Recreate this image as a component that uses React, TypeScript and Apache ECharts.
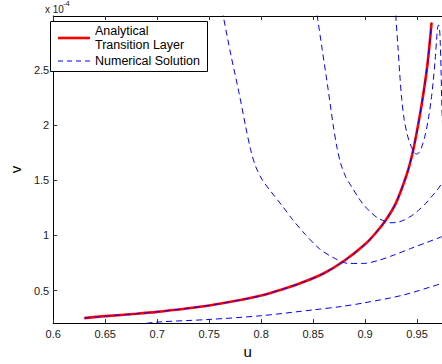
import React, { useEffect, useRef } from "react";
import * as echarts from "echarts";

// Analytical transition layer (red), v in units of 1e-4
const redU = [0.63, 0.65, 0.68, 0.7, 0.73, 0.75, 0.78, 0.8, 0.82, 0.84, 0.86, 0.88, 0.9, 0.91, 0.92, 0.93, 0.94, 0.945, 0.95, 0.955, 0.96, 0.964];
const redV = [0.25, 0.268, 0.29, 0.307, 0.34, 0.365, 0.415, 0.455, 0.51, 0.575, 0.655, 0.77, 0.92, 1.02, 1.14, 1.3, 1.55, 1.72, 1.95, 2.22, 2.55, 2.93];

// Numerical solution following the transition layer
const numAU = [0.63, 0.65, 0.68, 0.7, 0.73, 0.75, 0.78, 0.8, 0.82, 0.84, 0.86, 0.88, 0.9, 0.91, 0.92, 0.93, 0.94, 0.945, 0.95, 0.955, 0.96, 0.964];
const numAV = [0.25, 0.268, 0.29, 0.307, 0.34, 0.365, 0.415, 0.455, 0.51, 0.575, 0.655, 0.77, 0.92, 1.02, 1.14, 1.3, 1.55, 1.72, 1.95, 2.22, 2.55, 2.93];

// Numerical trajectory 1
const numBU = [0.7627, 0.7637, 0.7709, 0.7785, 0.7851, 0.7898, 0.7946, 0.8012, 0.8097, 0.821, 0.8304, 0.8427, 0.8559, 0.8692, 0.8843, 0.8984, 0.9126, 0.9277, 0.9438, 0.9589, 0.974];
const numBV = [3.044, 2.984, 2.638, 2.305, 1.99, 1.782, 1.629, 1.503, 1.395, 1.26, 1.142, 1.007, 0.881, 0.8, 0.746, 0.746, 0.773, 0.822, 0.881, 0.935, 0.989];

// Numerical trajectory 2
const numCU = [0.8526, 0.8541, 0.8588, 0.8645, 0.8692, 0.8729, 0.8767, 0.8814, 0.8871, 0.8937, 0.8994, 0.906, 0.9126, 0.9192, 0.9249, 0.9315, 0.9381, 0.9447, 0.9514, 0.958, 0.9646, 0.9702, 0.974];
const numCV = [3.089, 2.984, 2.684, 2.323, 2.008, 1.801, 1.648, 1.531, 1.441, 1.341, 1.269, 1.205, 1.156, 1.129, 1.115, 1.12, 1.142, 1.178, 1.228, 1.287, 1.359, 1.422, 1.476];

// Numerical trajectory 3
const numDU = [0.9291, 0.9296, 0.9315, 0.9334, 0.9353, 0.9376, 0.9405, 0.9438, 0.9471, 0.9495, 0.9523, 0.9551, 0.958, 0.9608, 0.9636, 0.9655, 0.9674, 0.9688, 0.9698, 0.9707, 0.9717, 0.9724, 0.9731, 0.9737, 0.9745];
const numDV = [3.089, 2.984, 2.729, 2.459, 2.233, 2.053, 1.918, 1.819, 1.756, 1.738, 1.756, 1.819, 1.918, 2.053, 2.233, 2.395, 2.593, 2.774, 2.882, 2.909, 2.864, 2.729, 2.503, 2.233, 2.008];

// Numerical trajectory 4 (bottom)
const numEU = [0.68, 0.7, 0.75, 0.8, 0.85, 0.8776, 0.9, 0.937, 0.974];
const numEV = [0.19, 0.214, 0.238, 0.272, 0.325, 0.356, 0.39, 0.46, 0.566];

const xTicks = [0.6, 0.65, 0.7, 0.75, 0.8, 0.85, 0.9, 0.95];
const yTicks = [0.5, 1, 1.5, 2, 2.5];

const zip = (u: number[], v: number[]) => u.map((x, i) => [x, v[i]]);

export default function App() {
  const ref = useRef<HTMLDivElement>(null);
  useEffect(() => {
    const chart = echarts.init(ref.current as HTMLDivElement, null, { renderer: "svg" });
    const font = "Liberation Sans";
    const fmt = (v: number) => String(+Number(v).toFixed(2));
    const blueLine = { color: "#0000ff", width: 1, type: [6, 4] as any };
    const blueSeries = (name: string, u: number[], v: number[]) => ({
      type: "line",
      name,
      data: zip(u, v),
      showSymbol: false,
      symbol: "none",
      smooth: 0.3,
      z: 3,
      lineStyle: blueLine,
    });
    chart.setOption({
      animation: false,
      grid: { left: 46, right: 0, top: 16, bottom: 39 },
      xAxis: [
        {
          type: "value",
          min: 0.6,
          max: 0.974,
          position: "bottom",
          name: "u",
          nameLocation: "middle",
          nameGap: 18,
          nameTextStyle: { fontFamily: font, fontSize: 15, color: "#000" },
          axisLine: { onZero: false, lineStyle: { color: "#000", width: 1 } },
          axisTick: { inside: true, length: 4, customValues: xTicks, lineStyle: { color: "#333" } },
          axisLabel: { customValues: xTicks, formatter: fmt, fontFamily: font, fontSize: 11, color: "#1a1a1a", margin: 5 },
          splitLine: { show: false },
        },
        {
          type: "value",
          min: 0.6,
          max: 0.974,
          position: "top",
          axisLine: { onZero: false, lineStyle: { color: "#000", width: 1 } },
          axisTick: { inside: true, length: 4, customValues: xTicks, lineStyle: { color: "#333" } },
          axisLabel: { show: false },
          splitLine: { show: false },
        },
      ],
      yAxis: [
        {
          type: "value",
          min: 0.205,
          max: 2.99,
          position: "left",
          name: "v",
          nameLocation: "middle",
          nameGap: 27,
          nameTextStyle: { fontFamily: font, fontSize: 15, color: "#000" },
          axisLine: { onZero: false, lineStyle: { color: "#000", width: 1 } },
          axisTick: { inside: true, length: 4, customValues: yTicks, lineStyle: { color: "#333" } },
          axisLabel: { customValues: yTicks, formatter: fmt, fontFamily: font, fontSize: 11, color: "#1a1a1a", margin: 4 },
          splitLine: { show: false },
        },
      ],
      series: [
        {
          type: "line",
          name: "Analytical Transition Layer",
          data: zip(redU, redV),
          showSymbol: false,
          symbol: "none",
          smooth: 0.3,
          z: 2,
          lineStyle: { color: "#ff0000", width: 2.6 },
        },
        blueSeries("Numerical Solution", numAU, numAV),
        blueSeries("Numerical Solution 2", numBU, numBV),
        blueSeries("Numerical Solution 3", numCU, numCV),
        blueSeries("Numerical Solution 4", numDU, numDV),
        blueSeries("Numerical Solution 5", numEU, numEV),
      ],
      graphic: [
        { type: "text", x: 45, y: 9, style: { text: "x 10", fontFamily: font, fontSize: 10, fill: "#1a1a1a", textVerticalAlign: "middle" } },
        { type: "text", x: 63, y: 3, style: { text: "-4", fontFamily: font, fontSize: 7.5, fill: "#1a1a1a", textVerticalAlign: "middle" } },
        { type: "rect", z: 10, shape: { x: 50.5, y: 21.5, width: 157, height: 50 }, style: { fill: "#fff", stroke: "#000", lineWidth: 1 } },
        { type: "line", z: 11, shape: { x1: 58, y1: 38, x2: 90, y2: 38 }, style: { stroke: "#ff0000", lineWidth: 2.6 } },
        { type: "line", z: 11, shape: { x1: 58, y1: 61, x2: 90, y2: 61 }, style: { stroke: "#0000ff", fill: "none", lineWidth: 1.2, lineDash: [5, 4] } },
        { type: "text", z: 11, x: 95, y: 31, style: { text: "Analytical", fontFamily: font, fontSize: 12.5, fill: "#000", textVerticalAlign: "middle" } },
        { type: "text", z: 11, x: 95, y: 45, style: { text: "Transition Layer", fontFamily: font, fontSize: 12.5, fill: "#000", textVerticalAlign: "middle" } },
        { type: "text", z: 11, x: 95, y: 61, style: { text: "Numerical Solution", fontFamily: font, fontSize: 12.5, fill: "#000", textVerticalAlign: "middle" } },
      ],
    });
    return () => chart.dispose();
  }, []);
  return <div ref={ref} style={{ position: "absolute", left: 0, top: 0, width: 442, height: 364 }} />;
}
